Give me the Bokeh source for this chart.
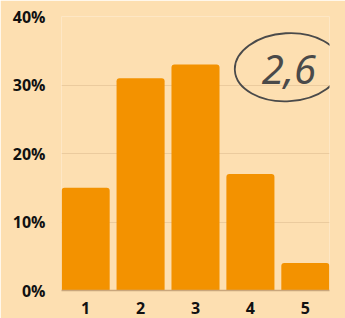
from bokeh.plotting import figure
from bokeh.models import Range1d, FixedTicker, ColumnDataSource
from bokeh.embed import file_html
from bokeh.resources import INLINE
from bokeh.core.properties import value

categories = [1, 2, 3, 4, 5]
shares = [15, 31, 33, 17, 4]
y_ticks = [0, 10, 20, 30, 40]
y_tick_labels = {0: "0%", 10: "10%", 20: "20%", 30: "30%", 40: "40%"}
mean_label = "2,6"

BG = "#FDDFB1"
BAR = "#F39200"

p = figure(width=345, height=318, output_backend="svg", toolbar_location=None,
           x_range=Range1d(0.56, 5.44), y_range=Range1d(0, 40),
           min_border_left=61, min_border_right=16, min_border_top=16, min_border_bottom=28)
p.background_fill_color = BG
p.border_fill_color = BG
p.outline_line_color = None

src = ColumnDataSource(dict(x=categories, top=shares))
p.vbar(x="x", top="top", width=0.875, source=src, fill_color=BAR, line_color=None,
       border_radius=(3, 3, 0, 0))

# annotation: ellipse with mean value
p.ellipse(x=[4.68], y=[32.6], width=[106], height=[68], width_units="screen", height_units="screen",
          angle=0.06, fill_color=None, line_color="#4a4a4a", line_width=1.8)
p.text(x=[4.70], y=[32.2], text=[mean_label], text_align="center", text_baseline="middle",
       text_font=value("Noto Sans"), text_font_size="40px", text_font_style="italic",
       text_color="#4a4a4a")

p.yaxis.ticker = FixedTicker(ticks=y_ticks)
p.yaxis.major_label_overrides = y_tick_labels
p.xaxis.ticker = FixedTicker(ticks=categories)
for ax in (p.xaxis, p.yaxis):
    ax.major_tick_line_color = None
    ax.minor_tick_line_color = None
    ax.major_label_text_font = "Open Sans"
    ax.major_label_text_font_style = "bold"
    ax.major_label_text_font_size = "16px"
    ax.major_label_text_color = "#111111"
p.yaxis.axis_line_color = None
p.yaxis.major_label_standoff = 10
p.xaxis.axis_line_color = "#C9A67C"
p.xaxis.axis_line_width = 1.5
p.xaxis.major_label_standoff = 5
p.xgrid.grid_line_color = None
p.ygrid.grid_line_color = "#EBCB9E"
p.ygrid.grid_line_width = 1

html = file_html(p, INLINE)
html = html.replace("<body>", '<body style="margin:0;background:%s">' % BG, 1)
open("out.html", "w").write(html)
